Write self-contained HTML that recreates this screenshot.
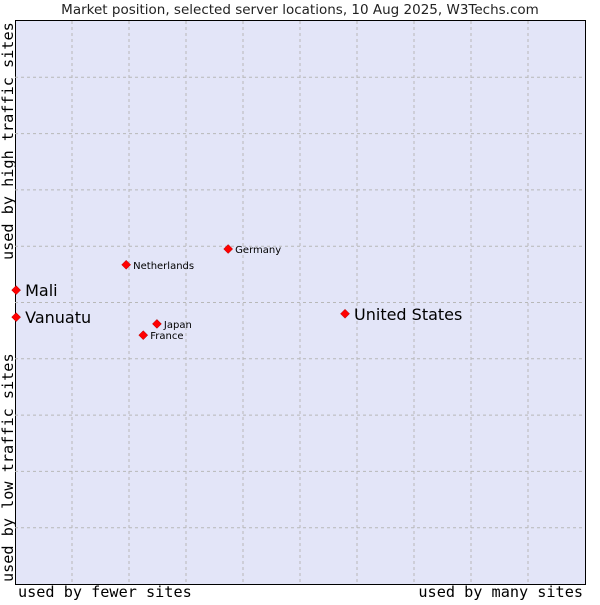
<!DOCTYPE html>
<html><head><meta charset="utf-8"><style>
body{margin:0;background:#fff;}
svg text{font-family:"DejaVu Sans","Liberation Sans",sans-serif;}
.mono{font-family:"DejaVu Sans Mono","Liberation Mono",monospace;font-size:15.2px;}
</style></head><body>
<svg id="chart" width="600" height="600" xmlns="http://www.w3.org/2000/svg">
<text x="300" y="14" text-anchor="middle" font-size="13.5" fill="#222">Market position, selected server locations, 10 Aug 2025, W3Techs.com</text>
<rect x="15.5" y="20.5" width="570" height="564" fill="#e3e5f8" stroke="#000" stroke-width="1"/>
<g id="grid"></g>
<g id="points"></g>
<text class="mono" x="18" y="597">used by fewer sites</text>
<text class="mono" x="583" y="597" text-anchor="end">used by many sites</text>
<text class="mono" transform="translate(13,582) rotate(-90)">used by low traffic sites</text>
<text class="mono" transform="translate(13,260) rotate(-90)">used by high traffic sites</text>
</svg>
<script>
const names=["Mali","Vanuatu","United States","Netherlands","Germany","Japan","France"];
const xVals=[0.2,0.2,57.9,19.5,37.4,24.9,22.5];
const yVals=[52.2,47.4,48.0,56.7,59.5,46.2,44.2];
const bigLabel=[true,true,true,false,false,false,false];
const L=15,R=585,T=21,B=584;
const sx=v=>L+v/100*(R-L);
const sy=v=>B-v/100*(B-T);
const ns="http://www.w3.org/2000/svg";
const grid=document.getElementById('grid');
for(let i=1;i<10;i++){
  const x=L+i*(R-L)/10, y=T+i*(B-T)/10;
  const a=document.createElementNS(ns,'line');
  
  
  a.setAttribute('x1',x);a.setAttribute('x2',x);a.setAttribute('y1',T);a.setAttribute('y2',B);
  a.setAttribute('stroke','#b8b8b8');a.setAttribute('stroke-dasharray','3,3');
  grid.appendChild(a);
  const b=document.createElementNS(ns,'line');
  
  
  b.setAttribute('x1',L);b.setAttribute('x2',R);b.setAttribute('y1',y);b.setAttribute('y2',y);
  b.setAttribute('stroke','#b8b8b8');b.setAttribute('stroke-dasharray','3,3');
  grid.appendChild(b);
}
const pts=document.getElementById('points');
names.forEach((n,i)=>{
  const x=sx(xVals[i]),y=sy(yVals[i]);
  const d=document.createElementNS(ns,'path');
  
  
  d.setAttribute('d',`M${x} ${y-4.5}L${x+4.5} ${y}L${x} ${y+4.5}L${x-4.5} ${y}Z`);
  d.setAttribute('fill','#f00');d.setAttribute('stroke','#a00');d.setAttribute('stroke-width','0.5');
  pts.appendChild(d);
  const t=document.createElementNS(ns,'text');
  
  
  t.setAttribute('x',x+(bigLabel[i]?9:7));
  t.setAttribute('y',y+(bigLabel[i]?6:4));
  t.setAttribute('font-size',bigLabel[i]?16:10);
  t.setAttribute('fill','#000');
  t.textContent=n;
  pts.appendChild(t);
});
</script>
</body></html>
